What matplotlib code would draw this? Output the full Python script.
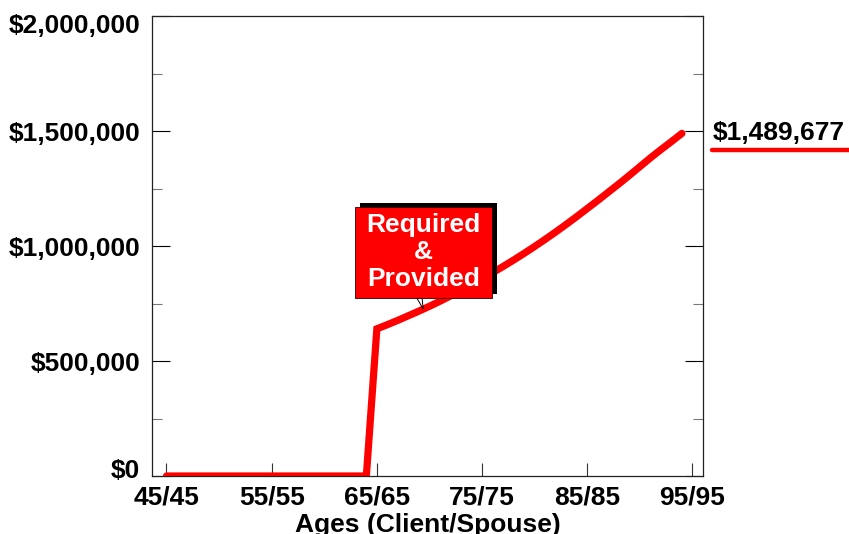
import matplotlib
matplotlib.use("Agg")
import matplotlib.pyplot as plt
import matplotlib.patheffects as pe
from matplotlib.patches import Rectangle, Polygon
from matplotlib.ticker import FuncFormatter, MultipleLocator
from matplotlib.transforms import ScaledTranslation

plt.rcParams['font.family'] = ['Liberation Sans', 'DejaVu Sans']
plt.rcParams['font.weight'] = 'bold'

# Projected values by age (client/spouse ages are equal)
ages = list(range(45, 95))
values = ([0] * 20 +
          [640000, 658000, 677000, 697000, 717000, 738000, 760000, 783000,
           807000, 832000, 858000, 884000, 911000, 939000, 968000, 998000,
           1029000, 1061000, 1094000, 1128000, 1163000, 1198000, 1234000,
           1270000, 1307000, 1345000, 1383000, 1419000, 1454000, 1489677])

x_ticks = [45, 55, 65, 75, 85, 95]
x_tick_labels = ["45/45", "55/55", "65/65", "75/75", "85/85", "95/95"]
y_ticks = [0, 500000, 1000000, 1500000, 2000000]

callout_text = "Required\n&\nProvided"
end_label = "${:,}".format(values[-1])
x_title = "Ages (Client/Spouse)"

RED = "#ff0000"
FS = 19

fig = plt.figure(figsize=(8.49, 5.34), dpi=100)
ax = fig.add_axes([0.1796, 0.1086, 0.6484, 0.8614])

ax.plot(ages, values, color=RED, lw=5.2, solid_capstyle='round',
        solid_joinstyle='miter', zorder=3)

ax.set_xlim(43.67, 96.0)
ax.set_ylim(0, 2000000)

ax.set_xticks(x_ticks)
ax.set_xticklabels(x_tick_labels, fontsize=FS, fontweight='bold')
ax.set_yticks(y_ticks)
ax.yaxis.set_major_formatter(FuncFormatter(lambda v, p: "${:,.0f}".format(v)))
ax.yaxis.set_minor_locator(MultipleLocator(250000))
for lab in ax.get_yticklabels():
    lab.set_fontsize(FS)
    lab.set_fontweight('bold')

ax.tick_params(axis='x', which='major', direction='in', length=9.5,
               width=0.8, color='#333333', pad=6.5, top=False)
ax.tick_params(axis='y', which='major', direction='in', length=13,
               width=0.8, color='black', pad=9, right=True)
ax.tick_params(axis='y', which='minor', direction='in', length=7,
               width=0.8, color='#777777', right=True)

for s in ax.spines.values():
    s.set_linewidth(0.9)
    s.set_color('#222222')

ax.set_xlabel(x_title, fontsize=FS, fontweight='bold', labelpad=3)

# Keep the end labels of the value axis inside the frame height
fig.canvas.draw()
ylabs = ax.get_yticklabels()
ylabs[0].set_transform(ylabs[0].get_transform() +
                       ScaledTranslation(0, 8 / 100, fig.dpi_scale_trans))
ylabs[-1].set_transform(ylabs[-1].get_transform() +
                        ScaledTranslation(0, -7 / 100, fig.dpi_scale_trans))

# Callout box with a solid black extrusion
box = Rectangle((62.92, 774000), 13.02, 396000, facecolor=RED,
                edgecolor='#330000', lw=0.6, zorder=5,
                path_effects=[pe.SimplePatchShadow(offset=(3.6, 2.9),
                                                   shadow_rgbFace='black',
                                                   alpha=1.0),
                              pe.Normal()])
ax.add_patch(box)
tail = Polygon([(68.8, 774000), (69.3, 774000), (69.4, 726000)],
               closed=True, facecolor='white', edgecolor='black', lw=0.7,
               zorder=4)
ax.add_patch(tail)
ax.text(69.43, 974000, callout_text, color='white', fontsize=FS,
        fontweight='bold', ha='center', va='center', linespacing=1.15,
        zorder=6)

# Ending value label beside the frame
ax.annotate(end_label, xy=(1.0, values[-1]),
            xycoords=('axes fraction', 'data'),
            xytext=(7, 0), textcoords='offset points',
            fontsize=FS, fontweight='bold', ha='left', va='center',
            annotation_clip=False)
fig.add_artist(plt.Line2D([712 / 849, 1.0], [1 - 150 / 534, 1 - 150 / 534],
                          color=RED, lw=3.2, solid_capstyle='round'))

fig.savefig("out.png", dpi=100)
